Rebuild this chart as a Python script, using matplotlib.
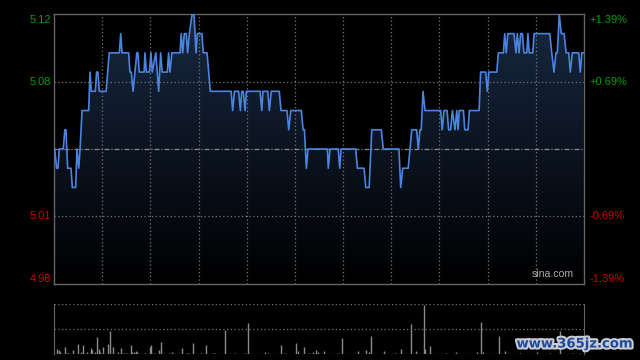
import numpy as np
import matplotlib
matplotlib.use("Agg")
import matplotlib.pyplot as plt
from matplotlib.patches import Polygon
from matplotlib.colors import LinearSegmentedColormap
import matplotlib.patheffects as pe

# Intraday price trace (minute from open, price)
minutes = [0.3, 1.2, 1.8, 2.4, 4.2, 4.9, 5.4, 6.2, 7.7, 8.3, 9.8, 10.4, 11.2, 11.8, 12.7,
           15.7, 16.3, 16.9, 18.7, 19.3, 19.9, 20.5, 23.6, 25.0, 29.6, 30.2, 30.8, 33.8,
           34.4, 35.0, 35.8, 37.5, 38.0, 38.6, 40.8, 41.2, 41.8, 43.2, 43.9, 44.5, 46.1,
           47.4, 48.3, 49.0, 51.3, 51.9, 52.5, 53.4, 57.1, 57.6, 58.3, 59.0, 59.9, 60.5,
           61.3, 62.5, 63.4, 64.3, 64.9, 67.0, 67.6, 69.3, 70.8, 80.2, 80.9, 81.7, 83.6,
           84.4, 85.0, 85.7, 86.5, 87.1, 93.3, 94.1, 94.6, 96.8, 97.5, 98.4, 102.0, 102.8,
           105.5, 106.3, 107.2, 112.0, 112.8, 113.4, 114.3, 115.0, 123.8, 124.2, 125.0,
           128.7, 129.4, 130.0, 136.6, 137.4, 140.4, 141.2, 142.7, 143.9, 148.2, 149.1,
           156.2, 157.0, 157.9, 160.4, 162.0, 164.2, 165.0, 165.7, 166.3, 167.1, 168.0,
           175.1, 175.8, 176.6, 178.0, 178.7, 179.6, 180.4, 181.6, 182.4, 183.0, 183.5,
           185.4, 186.0, 187.5, 188.1, 192.5, 193.2, 195.5, 196.2, 196.9, 200.5, 201.2,
           203.5, 204.1, 204.8, 205.5, 208.3, 209.2, 209.8, 210.6, 211.3, 212.1, 212.8,
           214.1, 214.6, 215.2, 216.8, 217.4, 224.5, 225.4, 226.4, 227.3, 227.9, 228.8,
           229.7, 231.0, 231.9, 233.1, 233.8, 234.7, 237.6, 238.3, 239.0, 239.7]
prices = [5.05, 5.04, 5.04, 5.05, 5.05, 5.06, 5.06, 5.04, 5.04, 5.03, 5.03, 5.05, 5.04, 5.05, 5.07,
          5.07, 5.09, 5.08, 5.08, 5.09, 5.09, 5.08, 5.08, 5.10, 5.10, 5.11, 5.10, 5.10,
          5.09, 5.09, 5.08, 5.10, 5.10, 5.09, 5.09, 5.10, 5.09, 5.09, 5.10, 5.09, 5.10,
          5.08, 5.10, 5.09, 5.09, 5.10, 5.09, 5.10, 5.10, 5.11, 5.10, 5.11, 5.11, 5.10,
          5.11, 5.12, 5.12, 5.10, 5.11, 5.11, 5.10, 5.10, 5.08, 5.08, 5.07, 5.08, 5.08,
          5.07, 5.08, 5.08, 5.07, 5.08, 5.08, 5.07, 5.08, 5.08, 5.07, 5.08, 5.08, 5.07,
          5.07, 5.06, 5.07, 5.07, 5.06, 5.06, 5.04, 5.05, 5.05, 5.04, 5.05,
          5.05, 5.04, 5.05, 5.05, 5.04, 5.04, 5.03, 5.03, 5.06, 5.06, 5.05,
          5.05, 5.03, 5.04, 5.04, 5.06, 5.06, 5.05, 5.06, 5.06, 5.08, 5.07,
          5.07, 5.06, 5.07, 5.07, 5.06, 5.06, 5.07, 5.06, 5.07, 5.06, 5.07,
          5.07, 5.06, 5.06, 5.07, 5.07, 5.09, 5.09, 5.08, 5.09, 5.09, 5.10,
          5.10, 5.11, 5.10, 5.11, 5.11, 5.10, 5.11, 5.10, 5.11, 5.11, 5.10,
          5.10, 5.11, 5.10, 5.10, 5.11, 5.11, 5.10, 5.09, 5.10, 5.10, 5.12,
          5.11, 5.11, 5.10, 5.10, 5.09, 5.10, 5.10, 5.09, 5.10, 5.10]

prev_close = 5.05
y_low, y_high = 4.9798, 5.1202
left_labels = ["5.12", "5.08", "5.01", "4.98"]
right_labels = ["+1.39%", "+0.69%", "-0.69%", "-1.39%"]

# Volume bars (minute, relative volume, 100 = panel top)
vol_minutes = [1.5, 2.1, 2.9, 5.1, 6.0, 6.5, 8.6, 10.9, 12.1, 13.1, 15.1, 16.8, 17.4, 18.6,
               19.5, 20.4, 21.0, 22.3, 24.5, 25.5, 26.9, 29.1, 30.5, 31.7, 32.9, 35.0, 35.5,
               36.4, 37.0, 37.6, 41.4, 43.5, 44.1, 45.4, 47.7, 48.6, 52.2, 53.4, 58.1, 60.4,
               61.0, 63.1, 66.7, 69.0, 72.2, 73.1, 77.6, 82.1, 86.6, 88.0, 95.7, 97.1, 102.9,
               104.8, 109.7, 110.3, 113.2, 115.6, 117.4, 118.8, 119.7, 122.3, 128.8, 130.6,
               137.8, 141.4, 142.5, 143.7, 149.6, 154.6, 157.3, 161.8, 164.1, 167.7, 168.2,
               170.4, 177.7, 182.2, 191.7, 193.5, 194.4, 201.7, 204.3, 211.0, 218.6, 224.6,
               229.2, 235.2, 238.2]
vol_values = [10, 9, 5, 14, 3, 3, 8, 21, 5, 19, 5, 12, 9, 5,
              35, 10, 5, 15, 21, 47, 15, 5, 13, 3, 3, 19, 5,
              5, 7, 5, 3, 15, 19, 2, 9, 25, 3, 5, 12, 2,
              3, 23, 2, 19, 3, 2, 49, 2, 3, 63, 5, 2, 19,
              2, 23, 7, 15, 2, 5, 9, 5, 6, 2, 33,
              6, 8, 5, 37, 6, 2, 10, 61, 6, 99, 10,
              17, 3, 5, 5, 65, 5, 37, 6, 3, 4, 3,
              47, 3, 2]

GRID = "#767676"
SPINE = "#666666"
GREEN = "#00a000"
RED = "#d00000"

fig = plt.figure(figsize=(6.4, 3.6), dpi=100, facecolor="black")
ax = fig.add_axes([54 / 640, 76 / 360, 530 / 640, 270 / 360])
vax = fig.add_axes([54 / 640, 6 / 360, 530 / 640, 50 / 360])

# ---------------- price panel ----------------
ax.set_facecolor("black")
ax.set_xlim(0, 240)
ax.set_ylim(y_low, y_high)

cmap = LinearSegmentedColormap.from_list("fade", ["#000000", "#182841"])
grad = np.linspace(0, 1, 256).reshape(-1, 1)
im = ax.imshow(grad, extent=[0, 240, y_low, y_high], origin="lower",
               aspect="auto", cmap=cmap, zorder=1)
verts = [(minutes[0], y_low)] + list(zip(minutes, prices)) + [(minutes[-1], y_low)]
poly = Polygon(verts, closed=True, facecolor="none", edgecolor="none")
ax.add_patch(poly)
im.set_clip_path(poly)

for i in range(1, 11):
    ax.axvline(i * 240 / 11, color=GRID, lw=0.9, ls=(0, (1, 2)), zorder=2)
for v in [prev_close * 1.0069, prev_close * 0.9931]:
    ax.axhline(v, color=GRID, lw=0.9, ls=(0, (1, 2)), zorder=2)
ax.axhline(prev_close, color="#8a8a8a", lw=0.9, ls=(0, (4, 1.5, 1, 1.5)), zorder=2)

ax.plot(minutes, prices, color="#4b84e0", lw=1.2, zorder=3)

ax.set_xticks([])
ax.set_yticks([])
for s in ax.spines.values():
    s.set_color(SPINE)
    s.set_linewidth(1)

lab_y = [y_high, prev_close * 1.0069, prev_close * 0.9931, y_low]
lab_va = ["top", "center", "center", "bottom"]
lab_c = [GREEN, GREEN, RED, RED]
for y, va, c, l, r in zip(lab_y, lab_va, lab_c, left_labels, right_labels):
    off = -0.0005 if va == "top" else (0.0 if va == "bottom" else 0)
    ax.text(-0.006, y + off, l, transform=ax.get_yaxis_transform(), ha="right", va=va,
            color=c, fontsize=8, family="Liberation Sans")
    ax.text(1.011, y + off, r, transform=ax.get_yaxis_transform(), ha="left", va=va,
            color=c, fontsize=8, family="Liberation Sans")

ax.text(0.98, 0.02, "sina.com", transform=ax.transAxes, ha="right", va="bottom",
        color="#a8a8a8", fontsize=7.6, family="Liberation Sans")

# ---------------- volume panel ----------------
vax.set_facecolor("black")
vax.set_xlim(0, 240)
vax.set_ylim(0, 100)
vax.vlines(vol_minutes, 0, vol_values, color="#8a8a8a", lw=1)
for v in [0, 50, 100]:
    vax.axhline(v, color=GRID, lw=0.9, ls=(0, (1, 2)))
vax.set_xticks([])
vax.set_yticks([])
vax.spines["top"].set_visible(False)
vax.spines["bottom"].set_visible(False)
for s in ["left", "right"]:
    vax.spines[s].set_color(SPINE)

fig.text(575 / 640, 1 - 344 / 360, "www.365jz.com", ha="center", va="center",
         color="#1f4a9a", fontsize=9.5, fontweight="bold", family="DejaVu Sans",
         path_effects=[pe.withStroke(linewidth=3, foreground="#c8ccd4")])

fig.savefig("out.png", dpi=100, facecolor="black")
